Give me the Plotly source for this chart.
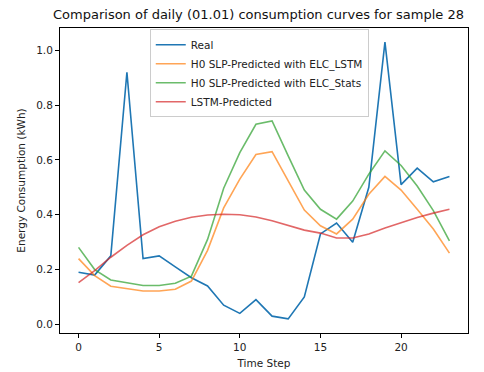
import plotly.graph_objects as go

time_steps = list(range(24))
real = [0.19, 0.18, 0.25, 0.92, 0.24, 0.25, 0.21, 0.17, 0.14, 0.07, 0.04, 0.09,
        0.03, 0.02, 0.10, 0.33, 0.37, 0.30, 0.50, 1.03, 0.51, 0.57, 0.52, 0.54]
elc_lstm = [0.24, 0.178, 0.139, 0.13, 0.122, 0.122, 0.128, 0.158, 0.27, 0.425, 0.53, 0.62,
            0.63, 0.524, 0.417, 0.36, 0.33, 0.384, 0.475, 0.54, 0.49, 0.42, 0.348, 0.26]
elc_stats = [0.281, 0.20, 0.162, 0.151, 0.142, 0.142, 0.15, 0.176, 0.31, 0.497, 0.627, 0.73,
             0.742, 0.615, 0.49, 0.42, 0.384, 0.45, 0.548, 0.633, 0.58, 0.505, 0.415, 0.305]
lstm_pred = [0.152, 0.196, 0.245, 0.288, 0.327, 0.356, 0.376, 0.391, 0.399, 0.402, 0.40, 0.392,
             0.378, 0.362, 0.344, 0.333, 0.315, 0.315, 0.33, 0.352, 0.372, 0.39, 0.406, 0.42]

series = [
    ("Real", real, "#1f77b4", 1.0),
    ("H0 SLP-Predicted with ELC_LSTM", elc_lstm, "#ff7f0e", 0.7),
    ("H0 SLP-Predicted with ELC_Stats", elc_stats, "#2ca02c", 0.7),
    ("LSTM-Predicted", lstm_pred, "#d62728", 0.7),
]

fig = go.Figure()
for name, vals, color, op in series:
    fig.add_trace(go.Scatter(x=time_steps, y=vals, mode="lines", name=name,
                             line=dict(color=color, width=1.6), opacity=op))

axis_common = dict(showline=True, mirror=True, linecolor="black", linewidth=1,
                   ticks="outside", ticklen=4, tickcolor="black", showgrid=False,
                   zeroline=False, automargin=False, tickfont=dict(size=10.5, color="#222"))

fig.update_layout(
    width=484, height=372,
    margin=dict(l=60, r=16, t=28, b=39),
    paper_bgcolor="white", plot_bgcolor="white",
    font=dict(family="DejaVu Sans", size=10.5, color="#222"),
    title=dict(text="Comparison of daily (01.01) consumption curves for sample 28",
               x=258.5 / 484, xanchor="center", y=0.962, yanchor="middle",
               font=dict(size=13, color="#111")),
    showlegend=True,
    legend=dict(x=0.22, y=0.996, xanchor="left", yanchor="top",
                bgcolor="rgba(255,255,255,0.8)", bordercolor="#cccccc", borderwidth=1,
                font=dict(size=10.5, color="#222"), tracegroupgap=0,
                itemwidth=30),
)
fig.update_xaxes(range=[-1.15, 24.15], dtick=5, tick0=0, ticklabelstandoff=0,
                 title=dict(text="Time Step", font=dict(size=10.5), standoff=8), **axis_common)
fig.update_yaxes(range=[-0.0315, 1.0815], dtick=0.2, tick0=0, tickformat=".1f",
                 title=dict(text="Energy Consumption (kWh)", font=dict(size=10.5), standoff=8),
                 **axis_common)

fig.write_html("out.html")
